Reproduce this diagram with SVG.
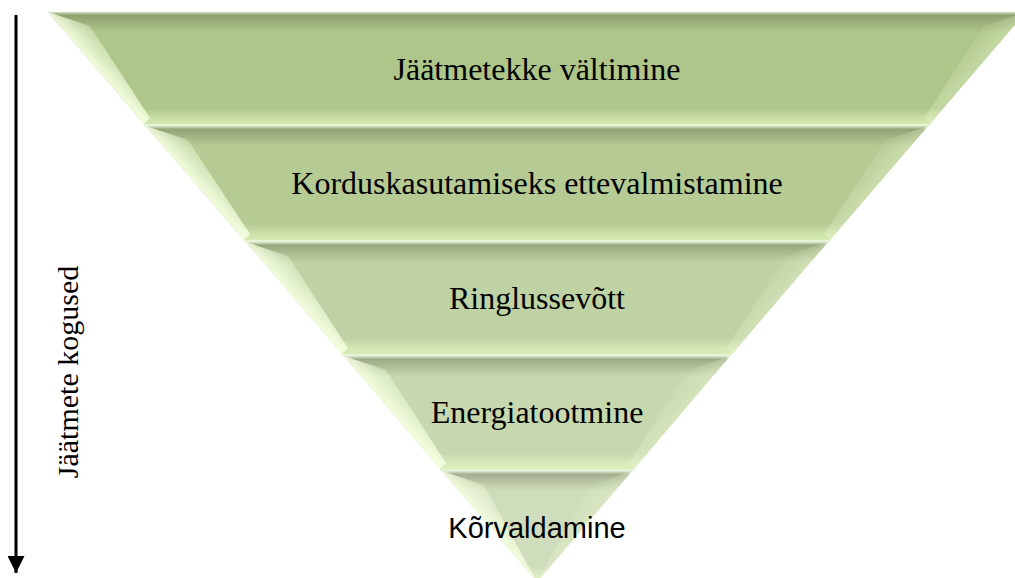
<svg xmlns="http://www.w3.org/2000/svg" width="1015" height="578" viewBox="0 0 1015 578">
  <style>
    .lbl { font-family: "Liberation Serif", "Times New Roman", serif; font-size: 32px; fill: #000; text-anchor: middle; }
    .lbl-sans { font-family: "Liberation Sans", Arial, sans-serif; font-size: 29px; fill: #000; text-anchor: middle; }
    .shade { fill: url(#shade); }
    .bevL { fill: url(#bevL); }
    .bevR { fill: url(#bevR); }
    .sep { stroke: #e6f3d6; stroke-width: 2; }
  </style>
  <defs>
    <linearGradient id="shade" x1="0" y1="0" x2="0" y2="1">
      <stop offset="0" stop-color="#ffffff" stop-opacity="0.5"/>
      <stop offset="0.03" stop-color="#5f6a48" stop-opacity="0.4"/>
      <stop offset="0.18" stop-color="#5f6a48" stop-opacity="0"/>
      <stop offset="0.86" stop-color="#f0ffd0" stop-opacity="0"/>
      <stop offset="0.95" stop-color="#eaffc8" stop-opacity="0.45"/>
      <stop offset="1" stop-color="#eaffc8" stop-opacity="0.6"/>
    </linearGradient>
    <linearGradient id="bevL" x1="0" y1="1" x2="1" y2="0">
      <stop offset="0.5" stop-color="#f4ffe0" stop-opacity="0.9"/>
      <stop offset="0.72" stop-color="#f4ffe0" stop-opacity="0"/>
    </linearGradient>
    <linearGradient id="bevR" x1="1" y1="1" x2="0" y2="0">
      <stop offset="0.5" stop-color="#e8f8d0" stop-opacity="0.35"/>
      <stop offset="0.68" stop-color="#e8f8d0" stop-opacity="0"/>
    </linearGradient>
    <marker id="arr" viewBox="0 0 10 10" refX="10" refY="5" markerWidth="17" markerHeight="17" markerUnits="userSpaceOnUse" orient="auto">
      <path d="M0,0 L10,5 L0,10 Z" fill="#000"/>
    </marker>
  </defs>

  <g id="band1">
    <polygon points="48,12 1026,12 930,124 144,124" fill="#aec689"/>
    <polygon class="shade" points="48,12 1026,12 930,124 144,124"/>
    <polygon class="bevL" points="48,12 90,26 150,118 144,124"/>
    <polygon class="bevR" points="1026,12 984,26 924,118 930,124"/>
    <text class="lbl" x="537" y="80">Jäätmetekke vältimine</text>
  </g>
  <g id="band2">
    <polygon points="146,126 928,126 830,240 244,240" fill="#b6cb94"/>
    <polygon class="shade" points="146,126 928,126 830,240 244,240"/>
    <polygon class="bevL" points="146,126 188,140 250,234 244,240"/>
    <polygon class="bevR" points="928,126 886,140 824,234 830,240"/>
    <text class="lbl" x="537" y="194">Korduskasutamiseks ettevalmistamine</text>
  </g>
  <g id="band3">
    <polygon points="246,242 828,242 732,354 342,354" fill="#bfd2a3"/>
    <polygon class="shade" points="246,242 828,242 732,354 342,354"/>
    <polygon class="bevL" points="246,242 288,256 348,348 342,354"/>
    <polygon class="bevR" points="828,242 786,256 726,348 732,354"/>
    <text class="lbl" x="537" y="309">Ringlussevõtt</text>
  </g>
  <g id="band4">
    <polygon points="344,356 730,356 634,469 440,469" fill="#c7d8af"/>
    <polygon class="shade" points="344,356 730,356 634,469 440,469"/>
    <polygon class="bevL" points="344,356 386,370 446,463 440,469"/>
    <polygon class="bevR" points="730,356 688,370 628,463 634,469"/>
    <text class="lbl" x="537" y="423">Energiatootmine</text>
  </g>
  <g id="band5">
    <polygon points="442,471 632,471 537,582" fill="#d0ddbd"/>
    <polygon class="shade" points="442,471 632,471 537,582"/>
    <polygon class="bevL" points="442,471 484,485 537,582"/>
    <polygon class="bevR" points="632,471 590,485 537,582"/>
    <text class="lbl-sans" x="537" y="538">Kõrvaldamine</text>
  </g>

  <g id="connectors">
    <line class="sep" x1="144" y1="125" x2="930" y2="125"/>
    <line class="sep" x1="244" y1="241" x2="830" y2="241"/>
    <line class="sep" x1="342" y1="355" x2="732" y2="355"/>
    <line class="sep" x1="440" y1="470" x2="634" y2="470"/>
    <line x1="16" y1="15" x2="16" y2="573" stroke="#000" stroke-width="3" marker-end="url(#arr)"/>
  </g>

  <g id="axis-label">
    <text class="lbl" style="font-size:30px" transform="translate(78,372) rotate(-90)" x="0" y="0">Jäätmete kogused</text>
  </g>
</svg>
